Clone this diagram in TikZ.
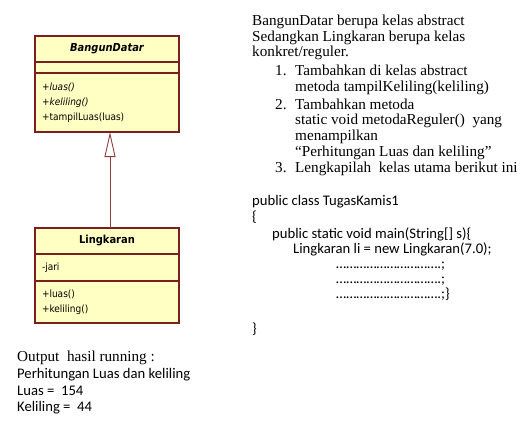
\documentclass[tikz,border=0pt]{standalone}
\usepackage{fontspec}
\setmainfont{Carlito}
\newfontfamily\umlfont{DejaVu Sans Condensed}
\newfontfamily\prosefont{Liberation Serif}
\usetikzlibrary{arrows.meta}

\definecolor{umlfill}{RGB}{255,255,196}
\definecolor{umlborder}{RGB}{122,30,30}
\definecolor{umlline}{RGB}{140,62,62}

\tikzset{
  compart/.style={draw=umlborder, fill=umlfill, line width=1.1pt,
    minimum width=144pt, inner xsep=7pt, text width=130pt,
    anchor=north west, outer sep=0pt,
    font=\umlfont\fontsize{10pt}{15pt}\selectfont},
  umltitle/.style={compart, minimum height=26pt, align=center,
    font=\umlfont\fontsize{11pt}{15pt}\selectfont\bfseries},
  prose/.style={anchor=base west, inner sep=0pt,
    font=\prosefont\fontsize{15.2pt}{16pt}\selectfont},
  code/.style={anchor=base west, inner sep=0pt,
    font=\fontsize{14.67pt}{16pt}\selectfont},
  inherit/.style={draw=umlline, line width=0.9pt,
    -{Triangle[open, length=25pt, width=11pt]}}
}

\begin{document}
\begin{tikzpicture}[x=1pt,y=-1pt]
\useasboundingbox (0,0) rectangle (530,424);

% BangunDatar (abstract)
\node[umltitle] (bdName) at (35,36) {\itshape BangunDatar};
\node[compart, minimum height=11pt] (bdAttr) at (bdName.south west) {};
\node[compart, minimum height=59pt, align=left] (bdOps) at (bdAttr.south west)
  {\textit{+luas()}\\ \textit{+keliling()}\\ +tampilLuas(luas)};

% Lingkaran
\node[umltitle] (lkName) at (35,228) {Lingkaran};
\node[compart, minimum height=27pt, align=left] (lkAttr) at (lkName.south west)
  {-jari};
\node[compart, minimum height=42pt, align=left] (lkOps) at (lkAttr.south west)
  {+luas()\\ +keliling()};

% pewarisan
\coordinate (axis) at (110,0);
\draw[inherit] (lkName.north -| axis) -- (bdOps.south -| axis);

% keterangan
\foreach \y/\t [count=\i] in {
25/{BangunDatar berupa kelas abstract},
41/{Sedangkan Lingkaran berupa kelas},
56.5/{konkret/reguler.}
}
{
\node[prose] (intro\i) at (252,\y) {\t};
}

\foreach \y/\n [count=\i] in {75.5/1.,109/2.,172.5/3.}
{
\node[prose] (num\i) at (275,\y) {\n};
}

\foreach \y/\t [count=\i] in {
75.5/{Tambahkan di kelas abstract},
91/{metoda tampilKeliling(keliling)},
109/{Tambahkan metoda},
124.5/{static void metodaReguler()\ \ yang},
140/{menampilkan},
156/{“Perhitungan Luas dan keliling”},
172.5/{Lengkapilah\ \ kelas utama berikut ini}
}
{
\node[prose] (item\i) at (295,\y) {\t};
}

% kelas utama
\node[code] (cls) at (252,205) {public class TugasKamis1};
\node[code] (open) at (252,221.5) {\{};
\node[code] (main) at (272,238) {public static void main(String[] s)\{};
\node[code] (obj) at (293,253) {Lingkaran li = new Lingkaran(7.0);};

\foreach \y/\t [count=\i] in {
268.5/{………………………….;},
283.5/{………………………….;},
298.5/{………………………….;\}}
}
{
\node[code] (blank\i) at (336,\y) {\t};
}

\node[code] (close) at (252,333) {\}};

% output
\node[prose] (outHead) at (17,361.5) {Output\ \ hasil running :};
\node[code] (out1) at (17,378) {Perhitungan Luas dan keliling};
\node[code] (out2) at (17,395) {Luas =\ \ 154};
\node[code] (out3) at (17,411.5) {Keliling =\ \ 44};

\end{tikzpicture}
\end{document}
